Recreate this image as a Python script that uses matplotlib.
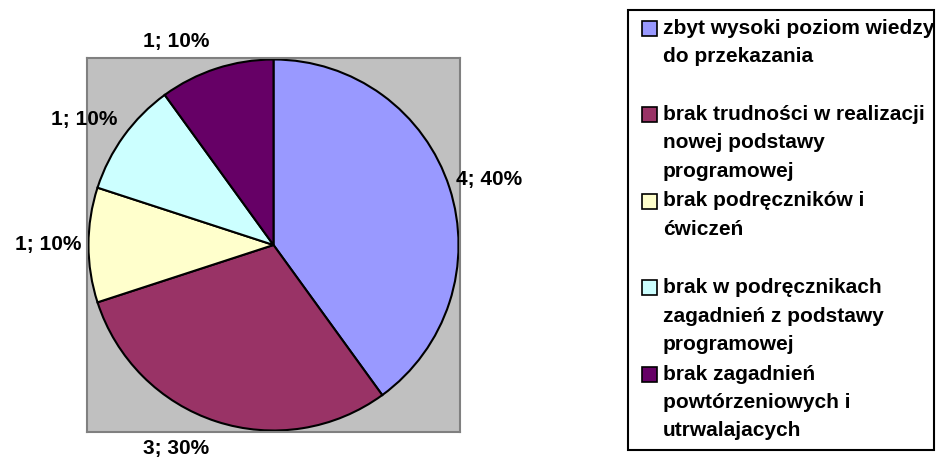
import numpy as np
import matplotlib.pyplot as plt
from matplotlib.patches import Rectangle

plt.rcParams['font.family'] = ['Liberation Sans', 'DejaVu Sans']

values = [4, 3, 1, 1, 1]
percents = [40, 30, 10, 10, 10]
colors = ['#9999FF', '#993366', '#FFFFCC', '#CCFFFF', '#660066']
legend_labels = [
    ['zbyt wysoki poziom wiedzy', 'do przekazania'],
    ['brak trudności w realizacji', 'nowej podstawy', 'programowej'],
    ['brak podręczników i', 'ćwiczeń'],
    ['brak w podręcznikach', 'zagadnień z podstawy', 'programowej'],
    ['brak zagadnień', 'powtórzeniowych i', 'utrwalajacych'],
]

W, H = 936, 462
fig = plt.figure(figsize=(W / 100, H / 100), dpi=100)

# plot area (gray square)
ax = fig.add_axes([87 / W, (H - 432) / H, 373 / W, 374 / H])

wedges, _ = ax.pie(values, colors=colors, startangle=90, counterclock=False,
                   radius=1.0, frame=True,
                   wedgeprops=dict(edgecolor='black', linewidth=1.5))
ax.set_facecolor('#C0C0C0')

# data labels outside the wedges, Excel style
for w, v, p in zip(wedges, values, percents):
    ang = np.deg2rad((w.theta1 + w.theta2) / 2)
    c, s = np.cos(ang), np.sin(ang)
    dx = 0 if abs(c) < 1e-6 else np.sign(c) * 40
    ax.annotate(f'{v}; {p}%', xy=(c, s), xytext=(dx * 0.72, 28 * s * 0.72),
                textcoords='offset points', ha='center', va='center',
                fontsize=15, fontweight='bold', annotation_clip=False)

ax.set_xlim(-1.008, 1.008)
ax.set_ylim(-1.008, 1.008)
ax.set_aspect('auto')
ax.set_xticks([])
ax.set_yticks([])
for sp in ax.spines.values():
    sp.set_visible(True)
    sp.set_color('#808080')
    sp.set_linewidth(1.5)

# legend drawn by hand
fig.patches.append(Rectangle((628 / W, (H - 450) / H), 306 / W, 440 / H,
                             transform=fig.transFigure, fill=False,
                             edgecolor='black', linewidth=1.5))
line_h = 28.5
entry_h = 86.5
for i, (lines, c) in enumerate(zip(legend_labels, colors)):
    y0 = 28 + entry_h * i
    fig.patches.append(Rectangle((642 / W, (H - y0 - 7.5) / H), 15 / W, 15 / H,
                                 transform=fig.transFigure, facecolor=c,
                                 edgecolor='black', linewidth=1.2))
    for j, ln in enumerate(lines):
        fig.text(663 / W, (H - y0 - line_h * j) / H, ln, fontsize=15,
                 fontweight='bold', ha='left', va='center')

fig.savefig('out.png', dpi=100)
